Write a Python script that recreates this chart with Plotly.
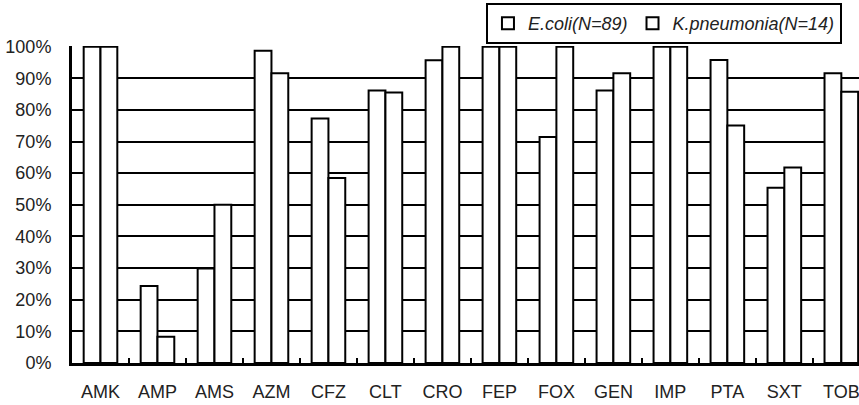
import plotly.graph_objects as go

categories = ["AMK", "AMP", "AMS", "AZM", "CFZ", "CLT", "CRO",
              "FEP", "FOX", "GEN", "IMP", "PTA", "SXT", "TOB"]
ecoli = [100, 24.3, 29.9, 98.7, 77.3, 86.1, 95.7, 100, 71.4, 86.1, 100, 95.8, 55.4, 91.6]
kpneu = [100, 8.3, 50, 91.6, 58.5, 85.5, 100, 100, 100, 91.6, 100, 75.1, 61.8, 85.7]
ecoli_name = "E.coli(N=89)"
kpneu_name = "K.pneumonia(N=14)"
y_ticks = [0, 10, 20, 30, 40, 50, 60, 70, 80, 90, 100]
y_labels = [f"{v}%" for v in y_ticks]

FONT = "Liberation Sans"

fig = go.Figure()
for name, vals in [(ecoli_name, ecoli), (kpneu_name, kpneu)]:
    fig.add_trace(go.Bar(
        x=categories, y=vals, name=name,
        marker=dict(color="white", line=dict(color="black", width=2)),
    ))

fig.update_layout(
    width=859, height=405,
    margin=dict(l=72, r=0, t=46, b=42, autoexpand=False),
    paper_bgcolor="white", plot_bgcolor="white",
    barmode="group", bargap=0.41, bargroupgap=0,
    font=dict(family=FONT, size=18, color="#222"),
    legend=dict(
        orientation="h", x=0.526, xanchor="left", y=1.1356, yanchor="top",
        bordercolor="black", borderwidth=2, bgcolor="white",
        font=dict(family=FONT, size=18, style="italic", color="#222"),
    ),
    xaxis=dict(
        type="category", range=[-0.5, 13.31],
        showline=True, linecolor="black", linewidth=3,
        ticks="inside", tickson="boundaries", ticklen=5, tickwidth=2, tickcolor="black",
        showgrid=False, ticklabelstandoff=10,
        tickfont=dict(family=FONT, size=18, color="#222"),
    ),
    yaxis=dict(
        range=[0, 100.2], tickmode="array", tickvals=y_ticks, ticktext=y_labels,
        showline=True, linecolor="black", linewidth=3,
        showgrid=True, gridcolor="black", gridwidth=2, zeroline=False,
        ticks="", ticklabelstandoff=14,
        tickfont=dict(family=FONT, size=18, color="#222"),
    ),
    showlegend=True,
    hovermode=False,
)

fig.write_html(
    "out.html",
    config={"displayModeBar": False, "staticPlot": True},
    post_script="document.body.style.margin='0px';",
)
